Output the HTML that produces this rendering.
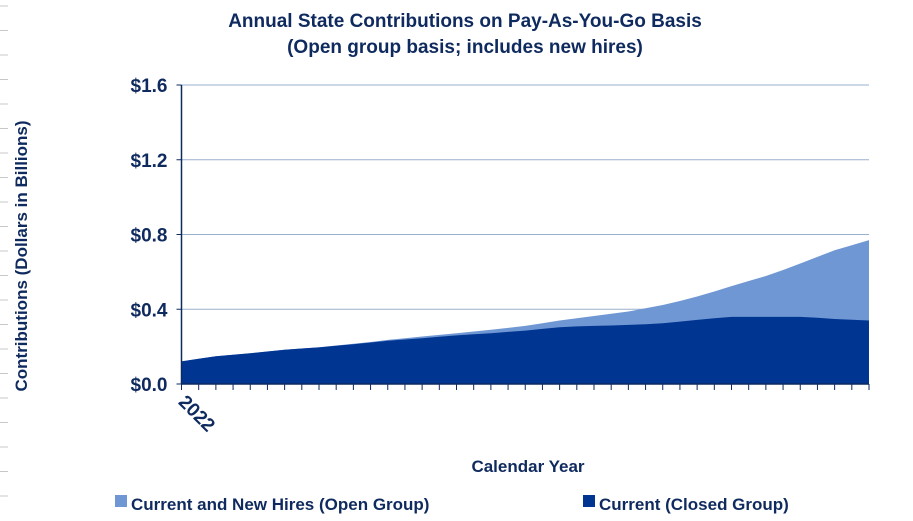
<!DOCTYPE html>
<html><head><meta charset="utf-8"><style>
body{margin:0;background:#fff;}
svg text{font-family:"Liberation Sans",Arial,sans-serif;font-weight:bold;fill:#0f2a5e;}
</style></head><body>
<svg width="913" height="516" viewBox="0 0 913 516" xmlns="http://www.w3.org/2000/svg">
<g id="edge"></g>
<text x="465" y="27" font-size="19" text-anchor="middle">Annual State Contributions on Pay-As-You-Go Basis</text>
<text x="465" y="53" font-size="19" text-anchor="middle">(Open group basis; includes new hires)</text>
<text transform="translate(27,256) rotate(-90)" font-size="17" text-anchor="middle">Contributions (Dollars in Billions)</text>
<text x="528" y="472" font-size="17" text-anchor="middle">Calendar Year</text>
<g id="grid"></g>
<g id="areas"></g>
<g id="axes"></g>
<rect x="115" y="495" width="12" height="12" fill="#6f97d3"/>
<text x="131" y="510" font-size="17">Current and New Hires (Open Group)</text>
<rect x="583" y="495" width="12" height="12" fill="#003591"/>
<text x="599" y="510" font-size="17">Current (Closed Group)</text>
</svg>
<script>
const years = [];
for (let y = 2022; y <= 2062; y++) years.push(y);
const closedGroup = [0.121,0.135,0.148,0.157,0.165,0.174,0.183,0.19,0.196,0.205,0.213,0.222,0.231,0.238,0.245,0.253,0.26,0.266,0.272,0.279,0.286,0.295,0.304,0.308,0.311,0.313,0.316,0.32,0.325,0.334,0.343,0.352,0.359,0.359,0.359,0.359,0.359,0.354,0.348,0.344,0.34];
const openGroup = [0.121,0.135,0.148,0.157,0.165,0.174,0.183,0.19,0.197,0.206,0.215,0.225,0.236,0.245,0.254,0.263,0.272,0.281,0.29,0.3,0.311,0.325,0.34,0.352,0.364,0.376,0.388,0.405,0.423,0.444,0.468,0.495,0.524,0.551,0.578,0.61,0.645,0.68,0.716,0.743,0.77];
const yTicks = [0, 0.4, 0.8, 1.2, 1.6];
const yTickLabels = ["$0.0","$0.4","$0.8","$1.2","$1.6"];
const xLabel = "2022";

const NS = "http://www.w3.org/2000/svg";
const X0 = 181.5, X1 = 869, Y0 = 384, Y1 = 85, YMAX = 1.6;
const xs = i => X0 + (X1 - X0) * i / (years.length - 1);
const ys = v => Y0 - (Y0 - Y1) * v / YMAX;
function mk(tag, attrs, parent) { const e = document.createElementNS(NS, tag); for (const k in attrs) e.setAttribute(k, attrs[k]); parent.appendChild(e); return e; }
const grid = document.getElementById('grid'), areas = document.getElementById('areas'), axes = document.getElementById('axes'), edge = document.getElementById('edge');

for (let y = 6; y < 516; y += 24.5) {
  const m = mk('line', {x1:0, x2:8, y1:y, y2:y, stroke:'#c8c8c8', 'stroke-width':1}, edge);
  
  
}

yTicks.forEach((t, i) => {
  if (t > 0) {
    const g = mk('line', {x1:X0, x2:X1, y1:ys(t), y2:ys(t), stroke:'#9bb0cc', 'stroke-width':1}, grid);
    
    
  }
  const tk = mk('line', {x1:X0-5, x2:X0, y1:ys(t), y2:ys(t), stroke:'#0f2a5e', 'stroke-width':1}, axes);
  
  
  const lb = mk('text', {x:X0-14, y:ys(t)+7, 'font-size':19, 'text-anchor':'end'}, axes);
  lb.textContent = yTickLabels[i];
  
  
});

function areaPath(vals) {
  let d = 'M' + xs(0) + ',' + Y0;
  vals.forEach((v, i) => { d += ' L' + xs(i).toFixed(1) + ',' + ys(v).toFixed(1); });
  return d + ' L' + xs(vals.length - 1) + ',' + Y0 + ' Z';
}
const pOpen = mk('path', {d: areaPath(openGroup), fill:'#6f97d3'}, areas);


const pClosed = mk('path', {d: areaPath(closedGroup), fill:'#003591'}, areas);



const ya = mk('line', {x1:X0, x2:X0, y1:Y1, y2:Y0, stroke:'#0f2a5e', 'stroke-width':1.5}, axes);


const xa = mk('line', {x1:X0, x2:X1, y1:Y0, y2:Y0, stroke:'#0f2a5e', 'stroke-width':1.5}, axes);


years.forEach((yr, i) => {
  const t = mk('line', {x1:xs(i), x2:xs(i), y1:Y0, y2:Y0+6, stroke:'#0f2a5e', 'stroke-width':1}, axes);
  
  
});
const xl = mk('text', {transform:'translate(' + (X0-4) + ',403) rotate(45)', 'font-size':19}, axes);
xl.textContent = xLabel;


</script>
</body></html>
